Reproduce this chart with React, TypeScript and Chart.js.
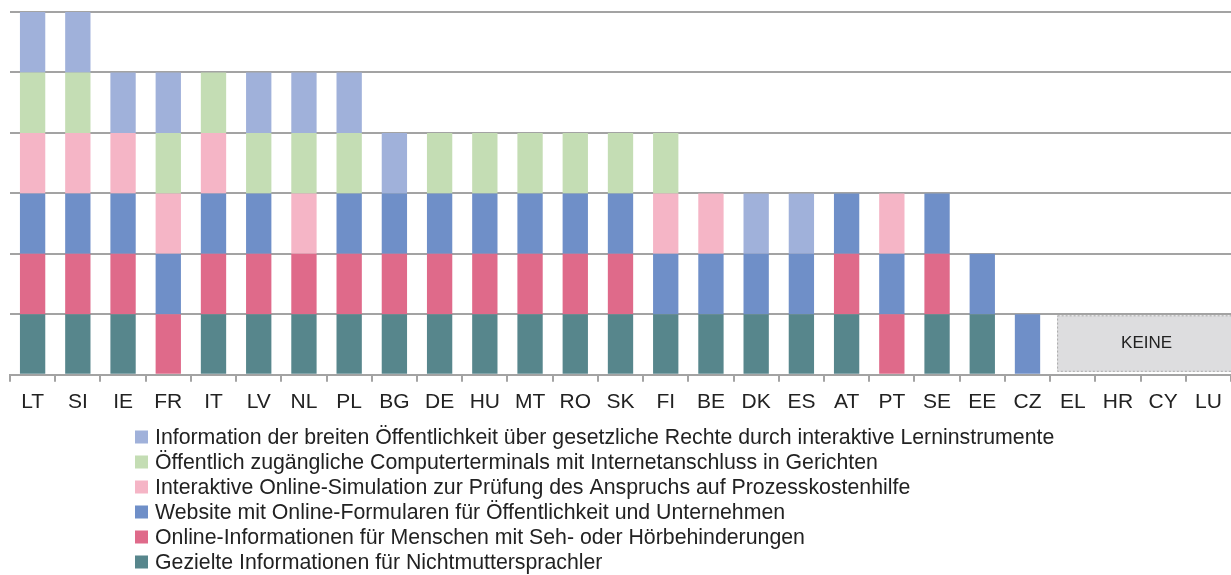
import { useEffect, useRef } from "react";
import { Chart, registerables } from "chart.js";

Chart.register(...registerables);

const categories = ["LT","SI","IE","FR","IT","LV","NL","PL","BG","DE","HU","MT","RO","SK","FI","BE","DK","ES","AT","PT","SE","EE","CZ","EL","HR","CY","LU"];

// Series listed bottom-of-stack first
const gezielte =    [1,1,1,0,1,1,1,1,1,1,1,1,1,1,1,1,1,1,1,0,1,1,0,0,0,0,0];
const onlineSeh =   [1,1,1,1,1,1,1,1,1,1,1,1,1,1,0,0,0,0,1,1,1,0,0,0,0,0,0];
const website =     [1,1,1,1,1,1,0,1,1,1,1,1,1,1,1,1,1,1,1,1,1,1,1,0,0,0,0];
const interaktive = [1,1,1,1,1,0,1,0,0,0,0,0,0,0,1,1,0,0,0,1,0,0,0,0,0,0,0];
const computer =    [1,1,0,1,1,1,1,1,0,1,1,1,1,1,1,0,0,0,0,0,0,0,0,0,0,0,0];
const information = [1,1,1,1,0,1,1,1,1,0,0,0,0,0,0,0,1,1,0,0,0,0,0,0,0,0,0];

const seriesLabels = [
  "Gezielte Informationen für Nichtmuttersprachler",
  "Online-Informationen für Menschen mit Seh- oder Hörbehinderungen",
  "Website mit Online-Formularen für Öffentlichkeit und Unternehmen",
  "Interaktive Online-Simulation zur Prüfung des Anspruchs auf Prozesskostenhilfe",
  "Öffentlich zugängliche Computerterminals mit Internetanschluss in Gerichten",
  "Information der breiten Öffentlichkeit über gesetzliche Rechte durch interaktive Lerninstrumente",
];
const seriesColors = ["#57868c", "#df6a8a", "#6f8fc8", "#f5b5c6", "#c4ddb4", "#a0b1da"];
const noneLabel = "KEINE";
const noneFrom = "EL";
const noneTo = "LU";
const yTicks = [0, 1, 2, 3, 4, 5, 6];

const FONT = "'Liberation Sans', Arial, sans-serif";

const noneBoxPlugin = {
  id: "noneBox",
  beforeDatasetsDraw(chart: any) {
    const { ctx, scales } = chart;
    const x = scales.x;
    const y = scales.y;
    const i0 = categories.indexOf(noneFrom);
    const i1 = categories.indexOf(noneTo);
    const step = x.getPixelForValue(1) - x.getPixelForValue(0);
    const left = x.getPixelForValue(i0) - step / 2 + 7;
    const right = x.getPixelForValue(i1) + step / 2 + 2;
    const top = y.getPixelForValue(1) + 1;
    const bottom = y.getPixelForValue(0) - 3;
    ctx.save();
    ctx.fillStyle = "#dddddf";
    ctx.fillRect(left, top, right - left, bottom - top);
    ctx.strokeStyle = "#a9a9a9";
    ctx.lineWidth = 1;
    ctx.setLineDash([2, 2]);
    ctx.strokeRect(left + 0.5, top + 0.5, right - left - 1, bottom - top - 1);
    ctx.setLineDash([]);
    ctx.fillStyle = "#222";
    ctx.font = `17px ${FONT}`;
    ctx.textAlign = "center";
    ctx.textBaseline = "middle";
    const cx = (x.getPixelForValue(i0) + x.getPixelForValue(i1)) / 2 + 6;
    ctx.fillText(noneLabel, cx, (top + bottom) / 2);
    ctx.restore();
  },
};

const legendPlugin = {
  id: "customLegend",
  afterDraw(chart: any) {
    const { ctx } = chart;
    const ds = chart.data.datasets;
    ctx.save();
    ctx.font = `21.3px ${FONT}`;
    ctx.textBaseline = "middle";
    ctx.textAlign = "left";
    const x0 = 135;
    const y0 = 437;
    const dy = 25;
    for (let k = 0; k < ds.length; k++) {
      const d = ds[ds.length - 1 - k];
      const cy = y0 + k * dy;
      ctx.fillStyle = d.backgroundColor;
      ctx.fillRect(x0, cy - 6.5, 13, 13);
      ctx.fillStyle = "#222";
      ctx.fillText(d.label, x0 + 20, cy + 1);
    }
    ctx.restore();
  },
};

export default function App() {
  const ref = useRef<HTMLCanvasElement>(null);
  useEffect(() => {
    const values = [gezielte, onlineSeh, website, interaktive, computer, information];
    const chart = new Chart(ref.current!, {
      type: "bar",
      data: {
        labels: categories,
        datasets: values.map((v, i) => ({
          label: seriesLabels[i],
          data: v,
          backgroundColor: seriesColors[i],
          borderWidth: 0,
          barPercentage: 0.56,
          categoryPercentage: 1,
        })),
      },
      options: {
        animation: false,
        responsive: false,
        maintainAspectRatio: false,
        layout: { padding: { left: 10, right: -2, top: 12, bottom: 152 } },
        plugins: { legend: { display: false }, tooltip: { enabled: false } },
        scales: {
          x: {
            stacked: true,
            grid: {
              display: true,
              drawOnChartArea: false,
              drawTicks: true,
              tickLength: 7,
              color: "#a3a3a3",
              lineWidth: 2,
              offset: true,
            },
            border: { display: true, color: "#a3a3a3", width: 2 },
            ticks: {
              color: "#222",
              font: { family: FONT, size: 21 },
              padding: 8,
              maxRotation: 0,
              autoSkip: false,
            },
          },
          y: {
            stacked: true,
            min: 0,
            max: 6,
            afterBuildTicks: (axis: any) => {
              axis.ticks = yTicks.map((v) => ({ value: v }));
            },
            grid: { color: "#a3a3a3", lineWidth: 2, drawTicks: false },
            border: { display: false },
            ticks: { display: false },
          },
        },
      },
      plugins: [noneBoxPlugin, legendPlugin],
    });
    return () => chart.destroy();
  }, []);
  return (
    <div style={{ position: "fixed", left: 0, top: 0, width: 1231, height: 575, background: "#fff" }}>
      <canvas ref={ref} width={1231} height={575} style={{ display: "block" }} />
    </div>
  );
}
